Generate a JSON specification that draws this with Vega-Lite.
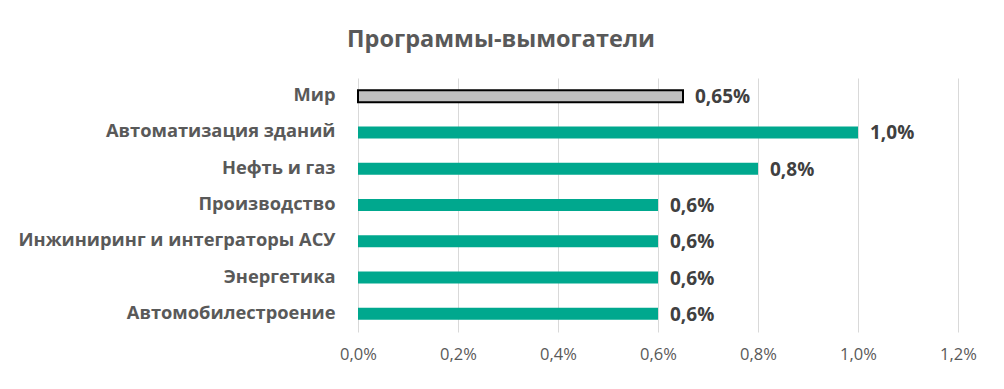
{
  "$schema": "https://vega.github.io/schema/vega-lite/v6.json",
  "autosize": "none",
  "width": 600,
  "height": 254,
  "padding": {"left": 358, "top": 78, "right": 46, "bottom": 57},
  "background": "white",
  "config": {
    "view": {"stroke": null},
    "font": "Open Sans"
  },
  "title": {
    "text": "Программы-вымогатели",
    "font": "Open Sans",
    "fontSize": 23.5,
    "fontWeight": "bold",
    "color": "#595959",
    "anchor": "middle",
    "dx": -157,
    "offset": 27
  },
  "data": {
    "values": [
      {"sector": "Мир", "value": 0.0065, "label": "0,65%", "group": "world"},
      {"sector": "Автоматизация зданий", "value": 0.010, "label": "1,0%", "group": "sector"},
      {"sector": "Нефть и газ", "value": 0.008, "label": "0,8%", "group": "sector"},
      {"sector": "Производство", "value": 0.006, "label": "0,6%", "group": "sector"},
      {"sector": "Инжиниринг и интеграторы АСУ", "value": 0.006, "label": "0,6%", "group": "sector"},
      {"sector": "Энергетика", "value": 0.006, "label": "0,6%", "group": "sector"},
      {"sector": "Автомобилестроение", "value": 0.006, "label": "0,6%", "group": "sector"}
    ]
  },
  "encoding": {
    "y": {
      "field": "sector", "type": "nominal", "sort": null,
      "axis": {
        "title": null, "domain": false, "ticks": false, "grid": false,
        "labelFont": "Open Sans", "labelFontSize": 18.3, "labelFontWeight": "bold",
        "labelColor": "#595959", "labelPadding": 23, "labelLimit": 400
      }
    },
    "x": {
      "field": "value", "type": "quantitative",
      "scale": {"domain": [0, 0.012], "nice": false},
      "axis": {
        "title": null, "values": [0, 0.002, 0.004, 0.006, 0.008, 0.010, 0.012],
        "labelExpr": "replace(format(datum.value, '.1%'), '.', ',')",
        "labelFlush": false,
        "domain": false, "ticks": false, "grid": true, "gridColor": "#d9d9d9", "gridWidth": 1,
        "labelFont": "Open Sans", "labelFontSize": 16.5, "labelColor": "#595959", "labelPadding": 14
      }
    }
  },
  "layer": [
    {
      "mark": {"type": "bar", "size": 12},
      "encoding": {
        "color": {
          "field": "group", "type": "nominal", "legend": null,
          "scale": {"domain": ["world", "sector"], "range": ["#bfbfbf", "#00a88e"]}
        },
        "stroke": {
          "field": "group", "type": "nominal", "legend": null,
          "scale": {"domain": ["world", "sector"], "range": ["#000000", "#00a88e"]}
        },
        "strokeWidth": {
          "field": "group", "type": "nominal", "legend": null,
          "scale": {"domain": ["world", "sector"], "range": [2, 0]}
        }
      }
    },
    {
      "mark": {"type": "text", "align": "left", "baseline": "middle", "dx": 12, "dy": 1, "font": "Open Sans", "fontSize": 19, "fontWeight": "bold", "color": "#404040"},
      "encoding": {"text": {"field": "label"}}
    }
  ]
}
